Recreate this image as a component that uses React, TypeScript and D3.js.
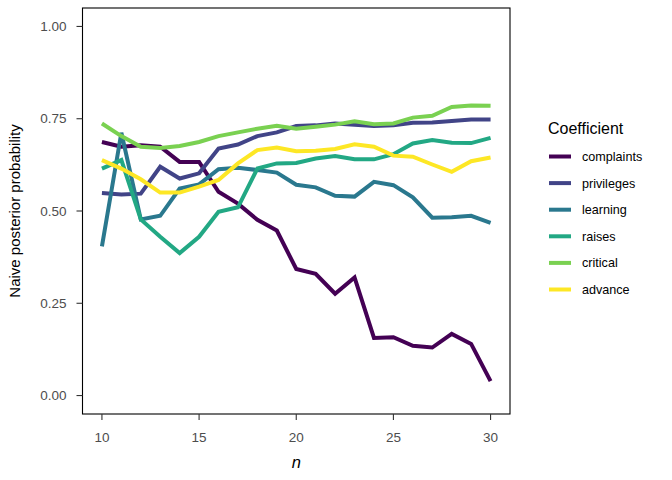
import * as d3 from "d3";

const W = 672;
const H = 480;
const MARGIN = { top: 8, right: 162, bottom: 66, left: 82.5 };

const nValues = d3.range(10, 31);
const xTicks = [10, 15, 20, 25, 30];
const yTicks = [0, 0.25, 0.5, 0.75, 1];

const coefficients = ["complaints", "privileges", "learning", "raises", "critical", "advance"];
const palette = ["#440154", "#414487", "#2A788E", "#22A884", "#7AD151", "#FDE725"];

const complaints = [0.687, 0.674, 0.678, 0.674, 0.633, 0.633, 0.552, 0.52, 0.476, 0.447, 0.343, 0.33, 0.276, 0.32, 0.156, 0.158, 0.135, 0.13, 0.167, 0.14, 0.039];
const privileges = [0.549, 0.545, 0.547, 0.62, 0.588, 0.602, 0.669, 0.68, 0.703, 0.713, 0.73, 0.732, 0.737, 0.734, 0.73, 0.732, 0.739, 0.74, 0.744, 0.748, 0.748];
const learning = [0.404, 0.712, 0.477, 0.487, 0.561, 0.572, 0.613, 0.617, 0.611, 0.604, 0.571, 0.564, 0.541, 0.539, 0.579, 0.57, 0.537, 0.482, 0.483, 0.487, 0.468];
const raises = [0.615, 0.638, 0.477, 0.43, 0.386, 0.43, 0.498, 0.51, 0.615, 0.629, 0.63, 0.642, 0.649, 0.64, 0.64, 0.654, 0.683, 0.692, 0.685, 0.684, 0.698];
const critical = [0.737, 0.703, 0.674, 0.671, 0.676, 0.687, 0.703, 0.713, 0.723, 0.731, 0.723, 0.728, 0.734, 0.743, 0.735, 0.737, 0.753, 0.758, 0.782, 0.786, 0.785];
const advance = [0.638, 0.615, 0.586, 0.55, 0.55, 0.566, 0.584, 0.629, 0.665, 0.672, 0.662, 0.663, 0.668, 0.681, 0.674, 0.65, 0.647, 0.626, 0.606, 0.635, 0.645];

const seriesValues = [complaints, privileges, learning, raises, critical, advance];

const FONT = "'Liberation Sans', Arial, Helvetica, sans-serif";

export default function App() {
  const boundsWidth = W - MARGIN.left - MARGIN.right;
  const boundsHeight = H - MARGIN.top - MARGIN.bottom;

  // ggplot-style 5% expansion on both axes
  const xScale = d3.scaleLinear().domain([9, 31]).range([0, boundsWidth]);
  const yScale = d3.scaleLinear().domain([-0.05, 1.05]).range([boundsHeight, 0]);

  const lineGen = d3
    .line<number>()
    .x((_, i) => xScale(nValues[i]))
    .y((d) => yScale(d));

  return (
    <svg width={W} height={H} style={{ display: "block", position: "absolute", left: 0, top: 0 }}>
      <rect width={W} height={H} fill="white" />
      <g transform={`translate(${MARGIN.left},${MARGIN.top})`}>
        {seriesValues.map((vals, i) => (
          <path
            key={coefficients[i]}
            d={lineGen(vals) ?? ""}
            fill="none"
            stroke={palette[i]}
            strokeWidth={4}
            strokeLinejoin="miter"
            strokeLinecap="butt"
          />
        ))}
        <rect width={boundsWidth} height={boundsHeight} fill="none" stroke="black" strokeWidth={1.1} />

        {/* x axis */}
        {xTicks.map((t) => (
          <g key={t} transform={`translate(${xScale(t)},${boundsHeight})`}>
            <line y2={6} stroke="#333" strokeWidth={1.1} />
            <text y={28} textAnchor="middle" fontSize={13.5} fill="#4D4D4D" fontFamily={FONT}>
              {t}
            </text>
          </g>
        ))}
        {/* y axis */}
        {yTicks.map((t) => (
          <g key={t} transform={`translate(0,${yScale(t)})`}>
            <line x2={-6} stroke="#333" strokeWidth={1.1} />
            <text x={-16} dy="0.35em" textAnchor="end" fontSize={13.5} fill="#4D4D4D" fontFamily={FONT}>
              {d3.format(".2f")(t)}
            </text>
          </g>
        ))}
        <text
          x={boundsWidth / 2}
          y={boundsHeight + 54}
          textAnchor="middle"
          fontSize={16.5}
          fontStyle="italic"
          fontFamily={FONT}
          fill="black"
        >
          n
        </text>
        <text
          transform={`translate(${-62.5},${boundsHeight / 2}) rotate(-90)`}
          textAnchor="middle"
          fontSize={15}
          fontFamily={FONT}
          fill="black"
        >
          Naive posterior probability
        </text>
      </g>

      {/* legend */}
      <g transform="translate(548,0)">
        <text x={0} y={134} fontSize={16} fontFamily={FONT} fill="black">
          Coefficient
        </text>
        {coefficients.map((c, i) => {
          const y = 156.5 + i * 26.6;
          return (
            <g key={c} transform={`translate(0,${y})`}>
              <line x1={1} x2={23} stroke={palette[i]} strokeWidth={4} />
              <text x={34} dy="0.35em" fontSize={12.6} fontFamily={FONT} fill="black">
                {c}
              </text>
            </g>
          );
        })}
      </g>
    </svg>
  );
}
